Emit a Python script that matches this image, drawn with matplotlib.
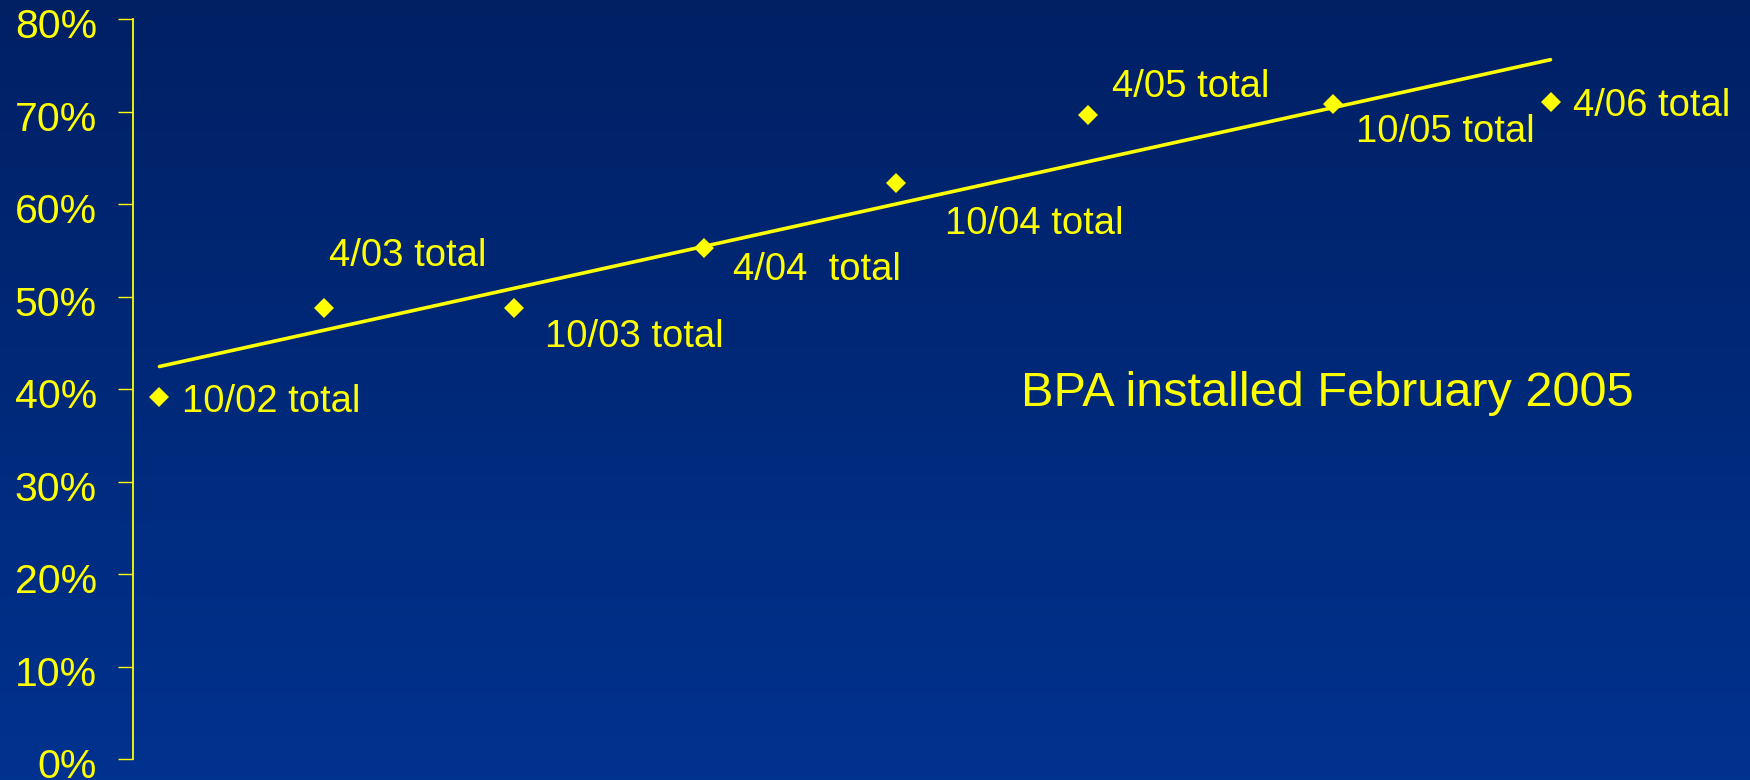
import numpy as np
import matplotlib
matplotlib.use("Agg")
import matplotlib.pyplot as plt
import matplotlib.transforms as mtransforms
from matplotlib.colors import LinearSegmentedColormap
from matplotlib.ticker import PercentFormatter

plt.rcParams["font.family"] = ["Liberation Sans", "DejaVu Sans"]

# survey rounds: months after Oct 2002, share of total
survey_labels = ["10/02 total", "4/03 total", "10/03 total", "4/04  total",
                 "10/04 total", "4/05 total", "10/05 total", "4/06 total"]
survey_month = [0.83, 5.98, 11.97, 17.92, 23.95, 29.97, 37.64, 44.48]
survey_share = [0.391, 0.488, 0.488, 0.553, 0.623, 0.696, 0.708, 0.710]

# where each label sits relative to its marker (points)
label_offsets = [(16, -3), (4, 37), (22, -21), (21, -16),
                 (35, -30), (17, 20), (17, -20), (16, -3)]

yellow = "#FFFF00"

fig = plt.figure(figsize=(17.5, 7.8), dpi=100)

# blue gradient backdrop
bg = fig.add_axes([0, 0, 1, 1])
cmap = LinearSegmentedColormap.from_list("slide", ["#002064", "#00328F"])
bg.imshow(np.linspace(0, 1, 256)[:, None], aspect="auto", cmap=cmap,
          extent=[0, 1, 0, 1])
bg.axis("off")

ax = fig.add_axes([0.076, 0.0269, 0.924, 0.9487])
ax.patch.set_alpha(0)

x = np.array(survey_month)
y = np.array(survey_share)

# linear trend through the survey points
slope, icpt = np.polyfit(x, y, 1)
xt = np.array([x.min(), x.max()])
ax.plot(xt, slope * xt + icpt, color=yellow, lw=2.6, solid_capstyle="round")

ax.plot(x, y, "D", color=yellow, ms=10.5, mew=0, clip_on=False)

for lbl, xi, yi, off in zip(survey_labels, x, y, label_offsets):
    ax.annotate(lbl, (xi, yi), xytext=off, textcoords="offset points",
                color=yellow, fontsize=27.5, ha="left", va="center",
                annotation_clip=False)

ax.text(0.549, 0.494, "BPA installed February 2005", transform=ax.transAxes,
        color=yellow, fontsize=35, ha="left", va="center")

ax.set_xlim(0, 50.74)
ax.set_ylim(0, 0.8)
ax.set_yticks(np.arange(0, 0.81, 0.1))
ax.yaxis.set_major_formatter(PercentFormatter(1.0, decimals=0))

for s in ["top", "right", "bottom"]:
    ax.spines[s].set_visible(False)
ax.spines["left"].set_color(yellow)
ax.spines["left"].set_linewidth(1.3)
ax.set_xticks([])
ax.tick_params(axis="y", direction="out", length=11, width=1, color=yellow,
               labelcolor=yellow, labelsize=29.5, pad=15)

# nudge the percent labels down a little
shift = mtransforms.ScaledTranslation(0, -3 / 72, fig.dpi_scale_trans)
for t in ax.get_yticklabels():
    t.set_transform(t.get_transform() + shift)

fig.savefig("out.png", dpi=100)
